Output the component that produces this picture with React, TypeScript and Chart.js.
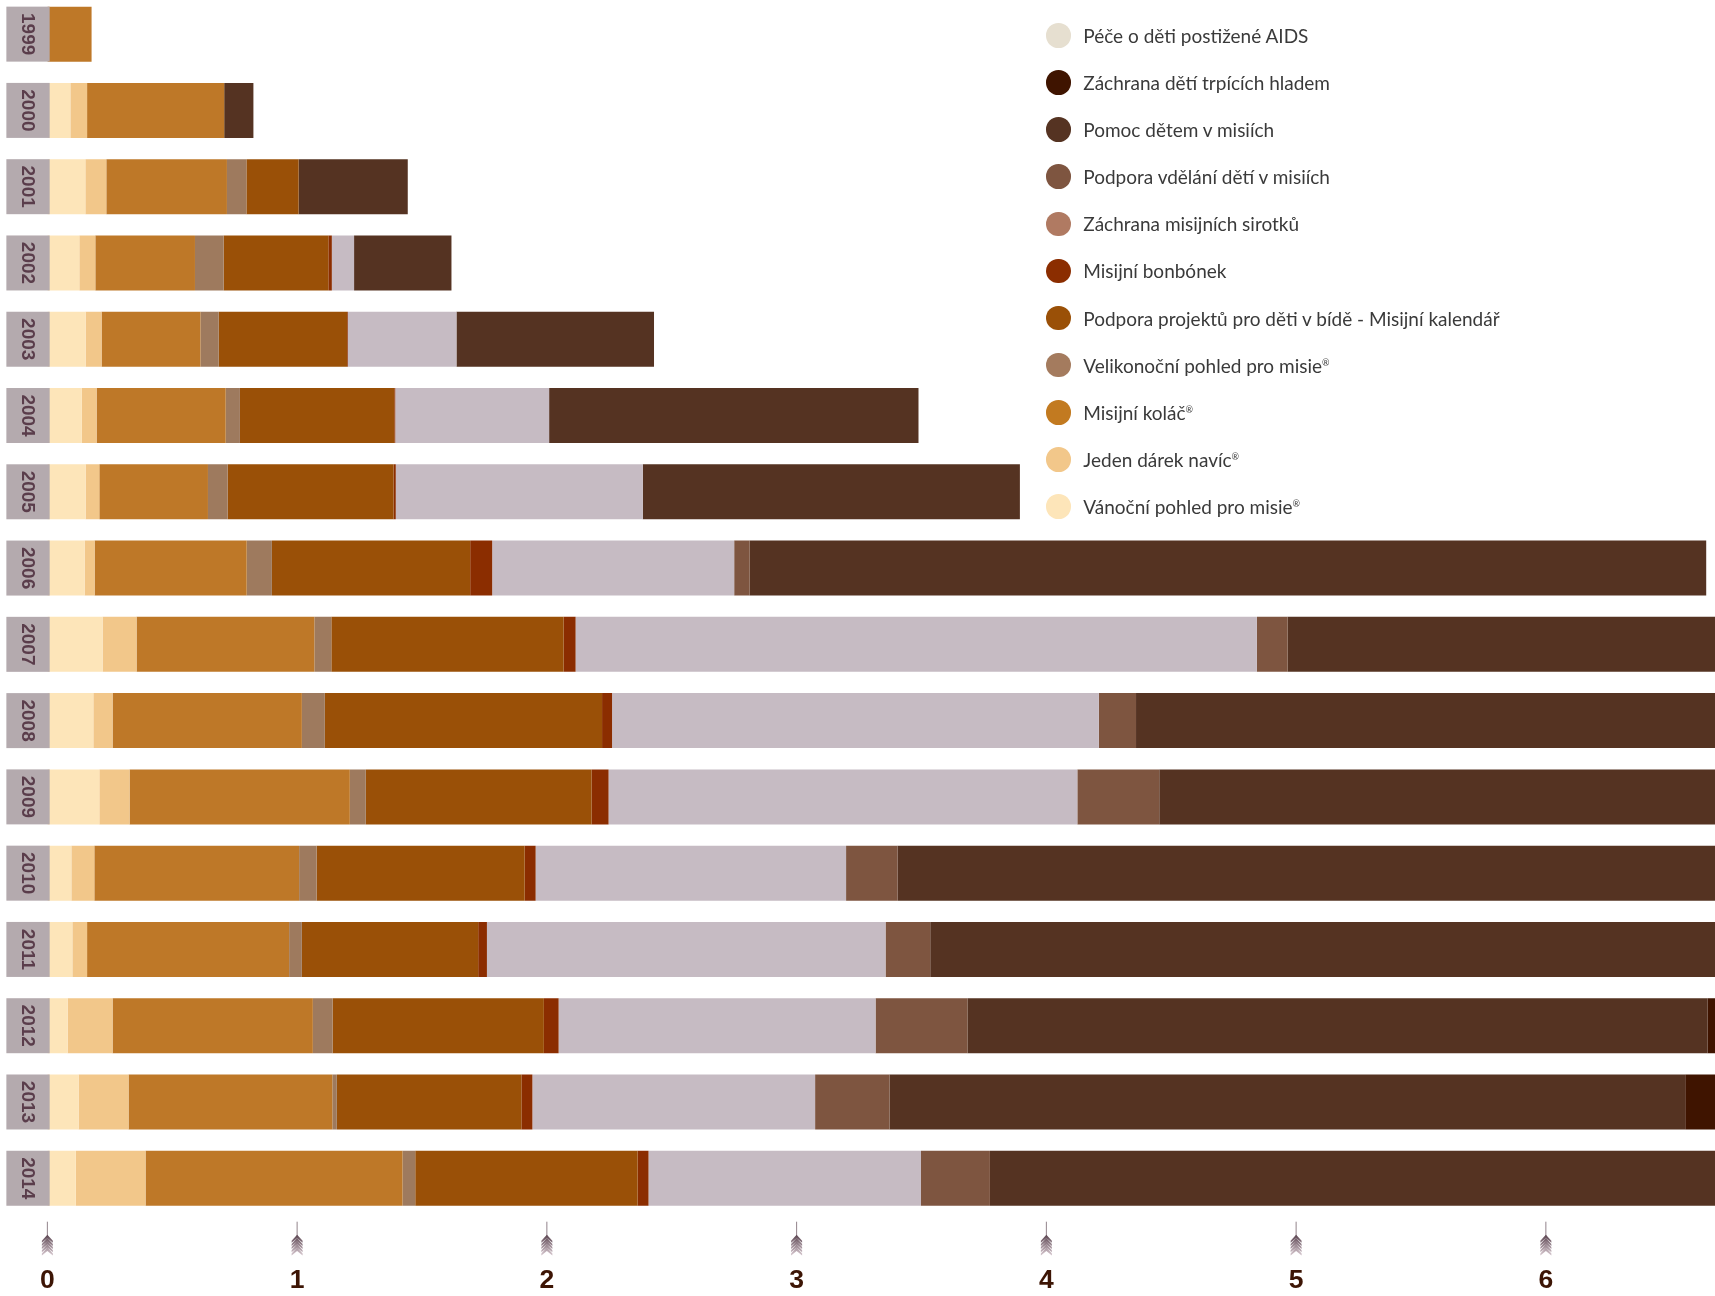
import React, { useEffect, useRef } from "react";
import { Chart, registerables } from "chart.js";

Chart.register(...registerables);

// ---------- data ----------
const years = ["1999", "2000", "2001", "2002", "2003", "2004", "2005", "2006", "2007", "2008", "2009", "2010", "2011", "2012", "2013", "2014"];

const vanocniPohled = [0, 0.092, 0.152, 0.128, 0.153, 0.138, 0.153, 0.149, 0.221, 0.184, 0.208, 0.096, 0.1, 0.081, 0.125, 0.114];
const jedenDarek = [0, 0.067, 0.084, 0.064, 0.064, 0.059, 0.055, 0.04, 0.136, 0.077, 0.121, 0.092, 0.059, 0.18, 0.2, 0.279];
const misijniKolac = [0.177, 0.549, 0.483, 0.399, 0.396, 0.517, 0.435, 0.609, 0.712, 0.758, 0.882, 0.82, 0.809, 0.802, 0.816, 1.029];
const velikonocniPohled = [0, 0, 0.078, 0.115, 0.073, 0.057, 0.079, 0.101, 0.068, 0.092, 0.064, 0.07, 0.051, 0.079, 0.018, 0.051];
const misijniKalendar = [0, 0, 0.209, 0.419, 0.514, 0.618, 0.664, 0.794, 0.93, 1.11, 0.904, 0.833, 0.706, 0.846, 0.739, 0.89];
const misijniBonbonek = [0, 0, 0, 0.014, 0.003, 0.004, 0.009, 0.088, 0.048, 0.04, 0.068, 0.044, 0.035, 0.059, 0.044, 0.044];
const zachranaSirotku = [0, 0, 0, 0.089, 0.435, 0.616, 0.989, 0.969, 2.728, 1.949, 1.877, 1.243, 1.596, 1.269, 1.132, 1.091];
const podporaVzdelani = [0, 0, 0, 0, 0, 0, 0, 0.062, 0.123, 0.149, 0.328, 0.206, 0.179, 0.368, 0.298, 0.276];
const pomocDetem = [0, 0.117, 0.437, 0.39, 0.791, 1.479, 1.51, 3.83, 2.1, 2.5, 2.4, 3.4, 3.3, 2.963, 3.186, 3.1];
const zachranaHlad = [0, 0, 0, 0, 0, 0, 0, 0, 0, 0, 0, 0, 0, 0.1, 0.2, 0];
const peceAids = [0, 0, 0, 0, 0, 0, 0, 0, 0, 0, 0, 0, 0, 0, 0, 0];

const seriesNames = [
  "Vánoční pohled pro misie®",
  "Jeden dárek navíc®",
  "Misijní koláč®",
  "Velikonoční pohled pro misie®",
  "Podpora projektů pro děti v bídě - Misijní kalendář",
  "Misijní bonbónek",
  "Záchrana misijních sirotků",
  "Podpora vdělání dětí v misiích",
  "Pomoc dětem v misiích",
  "Záchrana dětí trpících hladem",
  "Péče o děti postižené AIDS",
];
const seriesValues = [
  vanocniPohled, jedenDarek, misijniKolac, velikonocniPohled, misijniKalendar,
  misijniBonbonek, zachranaSirotku, podporaVzdelani, pomocDetem, zachranaHlad, peceAids,
];
const barColors = ["#fde5b9", "#f2c78a", "#be7828", "#9e7a5e", "#9a5007", "#8b2d00", "#c6bbc3", "#7e5540", "#553322", "#3f1400", "#e6dfd0"];
const legendColors = ["#fde5b9", "#f2c78a", "#c27a20", "#a47b5e", "#9a5007", "#8b2d00", "#b07a62", "#7e5540", "#553322", "#3f1400", "#e6dfd0"];

const xTickValues = [0, 1, 2, 3, 4, 5, 6];
const BAR_PCT = 0.721;
const ZERO_X = 47; // page pixel of value 0
const UNIT_PX = 249.75; // page pixels per unit
const CANVAS_W = 1790;

// ---------- plugin: year boxes + feather tick marks ----------
function drawFeather(ctx: CanvasRenderingContext2D, x: number, yTop: number) {
  ctx.save();
  ctx.strokeStyle = "rgba(110,90,100,0.75)";
  ctx.lineWidth = 1;
  ctx.beginPath();
  ctx.moveTo(x, yTop);
  ctx.lineTo(x, yTop + 15);
  ctx.stroke();
  const y0 = yTop + 13;
  const grad = ctx.createLinearGradient(0, y0, 0, y0 + 19);
  grad.addColorStop(0, "#5a4450");
  grad.addColorStop(1, "#cdbdc5");
  ctx.fillStyle = grad;
  for (let i = 0; i < 5; i++) {
    const y = y0 + i * 3.2;
    ctx.beginPath();
    ctx.moveTo(x, y);
    ctx.lineTo(x + 5.5, y + 6);
    ctx.lineTo(x + 5.5, y + 8);
    ctx.lineTo(x, y + 3.5);
    ctx.lineTo(x - 5.5, y + 8);
    ctx.lineTo(x - 5.5, y + 6);
    ctx.closePath();
    ctx.fill();
  }
  ctx.restore();
}

const shiftState = { shift: 0 };

const decoPlugin = {
  id: "deco",
  afterDatasetsDraw(chart: any) {
    const ctx: CanvasRenderingContext2D = chart.ctx;
    const yScale = chart.scales.y;
    const xScale = chart.scales.x;
    const pitch = Math.abs(yScale.getPixelForValue(1) - yScale.getPixelForValue(0));
    const h = pitch * BAR_PCT;
    const s = shiftState.shift;
    years.forEach((yr, i) => {
      const cy = yScale.getPixelForValue(i);
      ctx.save();
      ctx.fillStyle = "#b4aaae";
      ctx.fillRect(6 + s, cy - h / 2, 43.3, h);
      ctx.translate(27.9 + s, cy);
      ctx.rotate(Math.PI / 2);
      ctx.font = 'bold 19px "Liberation Sans", Arial, sans-serif';
      ctx.fillStyle = "#5a3d4b";
      ctx.textAlign = "center";
      ctx.textBaseline = "middle";
      ctx.fillText(yr, 0, 1);
      ctx.restore();
    });
    const bottom = chart.chartArea.bottom;
    xTickValues.forEach((v) => {
      drawFeather(ctx, xScale.getPixelForValue(v), bottom + 5.3);
    });
  },
};

function renderName(name: string) {
  const parts = name.split("®");
  if (parts.length === 1) return name;
  return (
    <>
      {parts[0]}
      <span style={{ fontSize: 9, verticalAlign: 7 }}>®</span>
      {parts[1]}
    </>
  );
}

export default function App() {
  const canvasRef = useRef<HTMLCanvasElement | null>(null);

  useEffect(() => {
    const canvas = canvasRef.current;
    if (!canvas) return;
    shiftState.shift = 0;
    const chart: any = new Chart(canvas, {
      type: "bar",
      data: {
        labels: years,
        datasets: seriesNames.map((name, i) => ({
          label: name,
          data: seriesValues[i],
          backgroundColor: barColors[i],
          borderWidth: 0,
          categoryPercentage: 1,
          barPercentage: BAR_PCT,
        })),
      },
      options: {
        indexAxis: "y",
        responsive: false,
        animation: false,
        devicePixelRatio: 1,
        layout: { padding: 0 },
        plugins: {
          legend: { display: false },
          tooltip: { enabled: false },
        },
        scales: {
          x: {
            type: "linear",
            stacked: true,
            min: 0,
            max: 6.8,
            grid: { display: false, drawTicks: false },
            border: { display: false },
            ticks: {
              stepSize: 1,
              includeBounds: false,
              padding: 48,
              color: "#3d1505",
              font: { family: "'Liberation Sans', Arial, sans-serif", weight: "bold", size: 26.5 },
              callback: (v: any) => (xTickValues.includes(Number(v)) ? String(v) : ""),
            },
            afterFit: (s: any) => {
              s.height = 79.6;
            },
          },
          y: {
            type: "category",
            stacked: true,
            grid: { display: false, drawTicks: false },
            border: { display: false },
            ticks: { display: false },
            afterFit: (s: any) => {
              s.width = ZERO_X;
            },
          },
        },
      },
      plugins: [decoPlugin],
    } as any);
    // calibrate: value 0 at page x ZERO_X, UNIT_PX pixels per unit
    for (let k = 0; k < 2; k++) {
      const xs = chart.scales.x;
      const p0 = xs.getPixelForValue(0);
      const right = chart.chartArea.right;
      chart.options.scales.x.max = (right - p0) / UNIT_PX;
      chart.update();
    }
    const p0 = chart.scales.x.getPixelForValue(0);
    shiftState.shift = p0 - ZERO_X;
    canvas.style.left = `${-shiftState.shift}px`;
    chart.update();
    return () => chart.destroy();
  }, []);

  const itemH = 47.1;
  const legendItems = seriesNames.map((n, i) => ({ name: n, color: legendColors[i] })).reverse();

  return (
    <div style={{ position: "absolute", left: 0, top: 0, width: 1715, height: 1296, overflow: "hidden", background: "#fff" }}>
      <canvas
        ref={canvasRef}
        width={CANVAS_W}
        height={1300}
        style={{ position: "absolute", left: 0, top: -4, width: CANVAS_W, height: 1300 }}
      />
      <div style={{ position: "absolute", left: 1046, top: 35.5 - itemH / 2, fontFamily: "Lato, 'Open Sans', sans-serif", fontSize: 19, color: "#3a3a3a" }}>
        {legendItems.map((it) => (
          <div key={it.name} style={{ display: "flex", alignItems: "center", height: itemH, whiteSpace: "nowrap" }}>
            <span style={{ display: "inline-block", width: 24.7, height: 24.7, borderRadius: "50%", background: it.color, marginRight: 12.6, flex: "none" }} />
            <span>{renderName(it.name)}</span>
          </div>
        ))}
      </div>
    </div>
  );
}
